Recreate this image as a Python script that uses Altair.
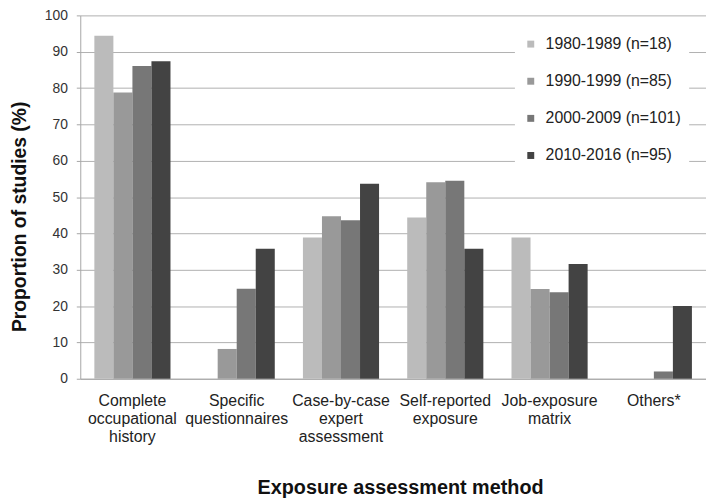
import altair as alt
import pandas as pd

categories = [
    "Complete|occupational|history",
    "Specific|questionnaires",
    "Case-by-case|expert|assessment",
    "Self-reported|exposure",
    "Job-exposure|matrix",
    "Others*",
]
series = ["1980-1989 (n=18)", "1990-1999 (n=85)", "2000-2009 (n=101)", "2010-2016 (n=95)"]
v1980 = [94.4, 0.0, 38.9, 44.4, 38.9, 0.0]
v1990 = [78.8, 8.2, 44.7, 54.1, 24.7, 0.0]
v2000 = [86.1, 24.8, 43.6, 54.5, 23.8, 2.0]
v2010 = [87.4, 35.8, 53.7, 35.8, 31.6, 20.0]
colors = ["#bbbbbb", "#999999", "#777777", "#434343"]
y_ticks = list(range(0, 101, 10))

rows = []
for s, vals in zip(series, [v1980, v1990, v2000, v2010]):
    for c, v in zip(categories, vals):
        rows.append({"method": c, "period": s, "value": v})
df = pd.DataFrame(rows)

chart = alt.Chart(df).mark_bar().encode(
    x=alt.X(
        "method:N",
        sort=categories,
        scale=alt.Scale(paddingInner=0.27, paddingOuter=0.135),
        axis=alt.Axis(
            title="Exposure assessment method",
            labelExpr="split(datum.label, '|')",
            labelAngle=0,
            ticks=False,
            labelPadding=14,
            labelFontSize=16,
            labelLineHeight=18,
            labelBaseline="top",
            labelColor="#222222",
            domainColor="#a6a6a6",
            titleFontSize=20,
            titleFontWeight="bold",
            titleY=116,
            titleX=323,
            titleAlign="center",
            titleBaseline="alphabetic",
            titleColor="#111111",
            grid=False,
        ),
    ),
    xOffset=alt.XOffset("period:N", sort=series, scale=alt.Scale(paddingInner=0, paddingOuter=0)),
    y=alt.Y(
        "value:Q",
        scale=alt.Scale(domain=[0, 100]),
        axis=alt.Axis(
            values=y_ticks,
            title="Proportion of studies (%)",
            labelFontSize=14,
            labelPadding=9,
            labelColor="#333333",
            tickSize=4,
            tickColor="#a6a6a6",
            domainColor="#a6a6a6",
            gridColor="#b0b0b0",
            titleFontSize=19.5,
            titleFontWeight="bold",
            titleColor="#111111",
            titleX=-61,
            titleY=203,
            titleAlign="center",
            titleBaseline="middle",
        ),
    ),
    color=alt.Color(
        "period:N",
        sort=series,
        title=None,
        scale=alt.Scale(domain=series, range=colors),
        legend=alt.Legend(
            orient="none",
            legendX=439,
            legendY=13,
            labelFontSize=16,
            labelColor="#222222",
            symbolType="square",
            symbolSize=49,
            symbolStrokeWidth=0,
            labelOffset=7,
            rowPadding=21.5,
            fillColor="white",
            padding=8,
        ),
    ),
).properties(
    width=632,
    height=367,
    autosize=alt.AutoSizeParams(type="none"),
    padding={"left": 73, "top": 5, "right": 0, "bottom": 120},
).configure(font="Liberation Sans").configure_view(strokeWidth=0)

chart.save("out.html", embed_options={"renderer": "svg", "actions": False})
